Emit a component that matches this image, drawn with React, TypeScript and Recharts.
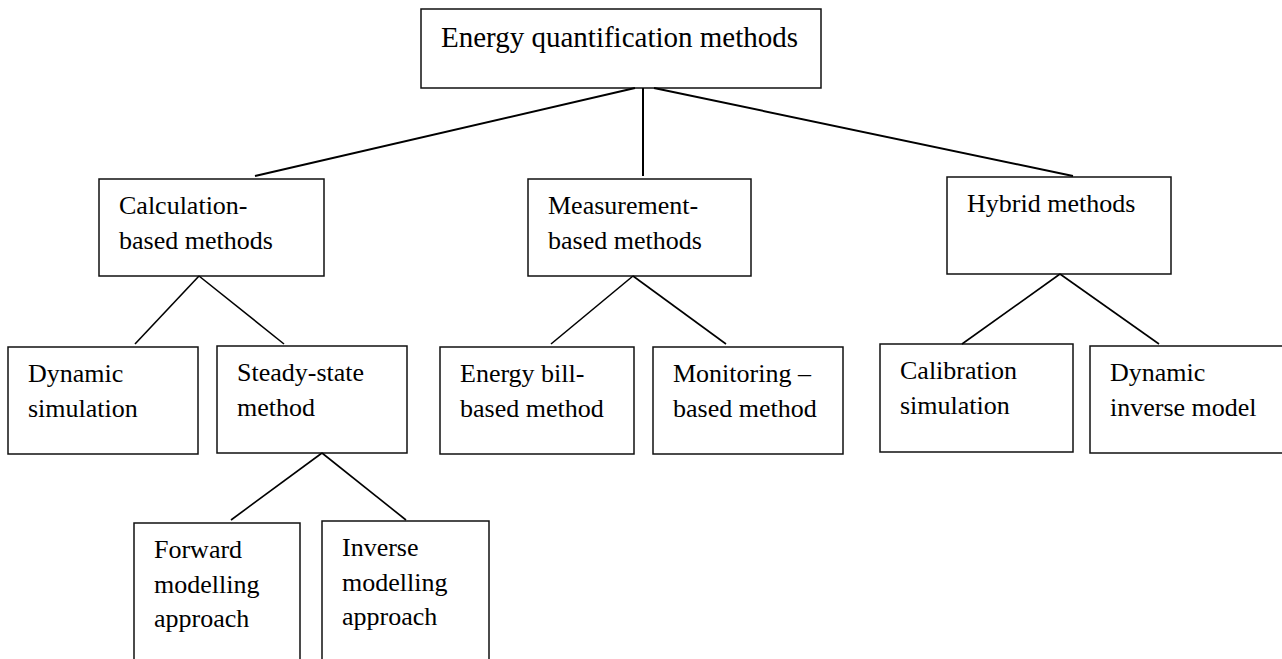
import { ComposedChart, XAxis, YAxis, ReferenceArea, ReferenceLine } from "recharts";

// Node boxes of the tree (diagram units = pixels of the drawing area)
const nodeLabels: string[][] = [
  ["Energy quantification methods"],
  ["Calculation-", "based methods"],
  ["Measurement-", "based methods"],
  ["Hybrid methods"],
  ["Dynamic", "simulation"],
  ["Steady-state", "method"],
  ["Energy bill-", "based method"],
  ["Monitoring \u2013", "based method"],
  ["Calibration", "simulation"],
  ["Dynamic", "inverse model"],
  ["Forward", "modelling", "approach"],
  ["Inverse", "modelling", "approach"],
];
const nodeLeft = [421, 99, 528, 947, 8, 217, 440, 653, 880, 1090, 134, 322];
const nodeRight = [821, 324, 751, 1171, 198, 407, 634, 843, 1073, 1300, 300, 489];
const nodeTop = [9, 179, 179, 177, 347, 346, 347, 347, 344, 346, 523, 521];
const nodeBottom = [88, 276, 276, 274, 454, 453, 454, 454, 452, 453, 680, 680];

// Connector segments
const edgeFromX = [635, 643, 654, 199, 199, 633, 633, 1060, 1060, 322, 322];
const edgeFromY = [88, 88, 88, 276, 276, 276, 276, 274, 274, 453, 453];
const edgeToX = [255, 643, 1073, 135, 284, 551, 726, 962, 1159, 231, 406];
const edgeToY = [176, 176, 176, 344, 344, 344, 344, 344, 344, 520, 520];

const W = 1282;
const H = 659;
const FONT = "'Liberation Serif', 'Times New Roman', serif";

function NodeText({ viewBox, lines, root }: { viewBox?: any; lines: string[]; root: boolean }) {
  if (!viewBox) return null;
  const { x, y } = viewBox;
  const size = root ? 29 : 26;
  return (
    <text x={x + 20} y={y + (root ? 38 : 35)} fontFamily={FONT} fontSize={size} fill="#000">
      {lines.map((line, i) => (
        <tspan key={i} x={x + 20} dy={i === 0 ? 0 : 34.5}>
          {line}
        </tspan>
      ))}
    </text>
  );
}

export default function App() {
  const points = nodeLeft.map((l, i) => ({ x: l, y: nodeTop[i] }));

  return (
    <div style={{ position: "absolute", left: 0, top: 0, background: "#fff" }}>
      <ComposedChart
        width={W}
        height={H}
        data={points}
        margin={{ top: 0, right: 0, bottom: 0, left: 0 }}
      >
        <XAxis type="number" dataKey="x" domain={[0, W]} hide allowDataOverflow />
        <YAxis type="number" dataKey="y" domain={[0, H]} reversed hide allowDataOverflow />

        {edgeFromX.map((fx, i) => (
          <ReferenceLine
            key={`e${i}`}
            segment={[
              { x: fx, y: edgeFromY[i] },
              { x: edgeToX[i], y: edgeToY[i] },
            ]}
            stroke="#000"
            strokeWidth={i < 3 ? 2 : 1.6}
            ifOverflow="visible"
          />
        ))}

        {nodeLabels.map((lines, i) => (
          <ReferenceArea
            key={`n${i}`}
            x1={nodeLeft[i]}
            x2={nodeRight[i]}
            y1={nodeTop[i]}
            y2={nodeBottom[i]}
            fill="#fff"
            fillOpacity={1}
            stroke="#111"
            strokeWidth={1.5}
            ifOverflow="visible"
            label={(props: any) => (
              <NodeText viewBox={props.viewBox} lines={lines} root={i === 0} />
            )}
          />
        ))}
      </ComposedChart>
    </div>
  );
}
